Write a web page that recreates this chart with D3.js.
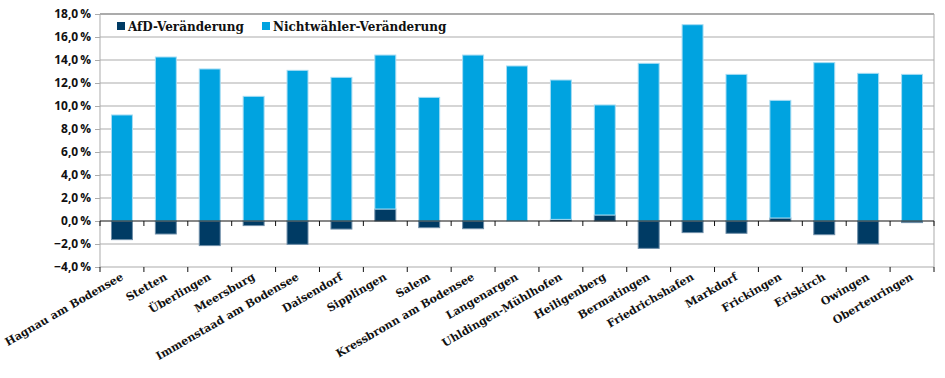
<!DOCTYPE html>
<html><head><meta charset="utf-8">
<script src="https://cdn.jsdelivr.net/npm/d3@7"></script>
<style>body{margin:0;background:#fff}svg{display:block}</style>
</head><body>
<svg id="c" width="945" height="378"></svg>
<script>
const categories = ["Hagnau am Bodensee","Stetten","Überlingen","Meersburg","Immenstaad am Bodensee","Daisendorf","Sipplingen","Salem","Kressbronn am Bodensee","Langenargen","Uhldingen-Mühlhofen","Heiligenberg","Bermatingen","Friedrichshafen","Markdorf","Frickingen","Eriskirch","Owingen","Oberteuringen"];
const afd = [-1.62,-1.13,-2.14,-0.40,-2.03,-0.70,1.04,-0.58,-0.67,0.0,0.14,0.52,-2.38,-1.01,-1.07,0.26,-1.19,-2.00,-0.14];
const nichtwaehler = [9.22,14.26,13.22,10.84,13.10,12.49,13.39,10.75,14.43,13.48,12.12,9.57,13.71,17.07,12.75,10.23,13.77,12.84,12.75];
const yTicks = [-4,-2,0,2,4,6,8,10,12,14,16,18];
const seriesNames = ["AfD-Veränderung","Nichtwähler-Veränderung"];
const colors = ["#003b64","#00a3e0"];
const strokes = ["#6e8ea8","#a6dcf3"];

const svg = d3.select("#c");
const L = 100, R = 934, T = 14, B = 267;
const x = d3.scaleBand().domain(categories).range([L, R]).paddingInner(0.5).paddingOuter(0.25);
const y = d3.scaleLinear().domain([-4, 18]).range([B, T]);
const fmt = v => d3.format(".1f")(v).replace(".", ",").replace("-", "-") + "\u2009%";

// gridlines
svg.append("g").selectAll("line").data(yTicks.filter(v => v !== 0)).join("line")
  .attr("x1", L).attr("x2", R).attr("y1", d => y(d)).attr("y2", d => y(d))
  .attr("stroke", "#ababab").attr("stroke-width", d => d === 18 ? 2 : 1);
// plot border left/right
svg.append("line").attr("x1", L).attr("x2", L).attr("y1", T).attr("y2", B).attr("stroke", "#ababab");
svg.append("line").attr("x1", R).attr("x2", R).attr("y1", T).attr("y2", B).attr("stroke", "#ababab");

// y axis
const yAxis = svg.append("g").attr("transform", `translate(${L},0)`)
  .call(d3.axisLeft(y).tickValues(yTicks).tickFormat(fmt).tickSize(5).tickPadding(4));
yAxis.select(".domain").remove();
yAxis.selectAll(".tick line").attr("stroke", "#ababab");
yAxis.selectAll("text").attr("font-family", "'Open Sans', sans-serif").attr("font-weight", 700)
  .attr("font-size", 12).attr("fill", "#111");

// data rows
const rows = categories.map((c, i) => ({cat: c, afd: afd[i], nw: nichtwaehler[i]}));
const stack = d3.stack().keys(["afd", "nw"]).offset(d3.stackOffsetDiverging);
const stacked = stack(rows);

svg.append("g").selectAll("g").data(stacked).join("g")
  .attr("fill", (d, i) => colors[i]).attr("stroke", (d, i) => strokes[i]).attr("stroke-width", 1)
  .selectAll("rect").data(d => d).join("rect")
  .attr("x", d => x(d.data.cat) + 0.5)
  .attr("width", x.bandwidth() - 1)
  .attr("y", d => y(Math.max(d[0], d[1])))
  .attr("height", d => Math.abs(y(d[0]) - y(d[1])));

// category boundaries for ticks
const step = x.step();
const bounds = d3.range(categories.length + 1).map(i => L + i * step);
// zero axis line
svg.append("line").attr("x1", L).attr("x2", R).attr("y1", y(0)).attr("y2", y(0)).attr("stroke", "#111").attr("stroke-width", 1.2);
svg.append("g").selectAll("line").data(bounds).join("line")
  .attr("x1", d => d).attr("x2", d => d).attr("y1", y(0)).attr("y2", y(0) + 5).attr("stroke", "#111");
svg.append("g").selectAll("line").data(bounds).join("line")
  .attr("x1", d => d).attr("x2", d => d).attr("y1", B).attr("y2", B + 5).attr("stroke", "#111");

// category labels
svg.append("g").selectAll("text").data(categories).join("text")
  .attr("transform", d => `translate(${x(d) + x.bandwidth() / 2 + 2},${B + 12}) rotate(-30)`)
  .attr("text-anchor", "end")
  .attr("font-family", "'DejaVu Serif', serif").attr("font-weight", 700).attr("font-size", 11)
  .attr("fill", "#111").text(d => d);

// legend
const lg = svg.append("g");
const lx = [117, 262];
seriesNames.forEach((n, i) => {
  lg.append("rect").attr("x", lx[i]).attr("y", 22).attr("width", 8).attr("height", 8).attr("fill", colors[i]);
  lg.append("text").attr("x", lx[i] + 11).attr("y", 31)
    .attr("font-family", "'DejaVu Serif', serif").attr("font-weight", 700).attr("font-size", 12)
    .attr("fill", "#111").text(n);
});
</script>
</body></html>
